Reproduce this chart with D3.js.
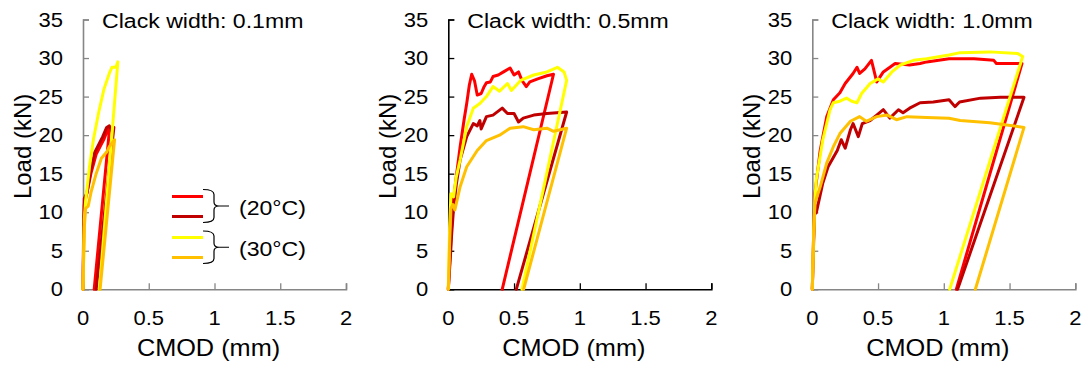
<!DOCTYPE html>
<html><head><meta charset="utf-8">
<script src="https://cdn.jsdelivr.net/npm/d3@7"></script>
<style>body{margin:0;background:#fff}svg{display:block}text{font-family:"Liberation Sans",Arial,sans-serif;fill:#000}</style>
</head><body><svg id="c" width="1086" height="365"></svg>
<script>
const panelTitles = ["Clack width: 0.1mm", "Clack width: 0.5mm", "Clack width: 1.0mm"];
const seriesNames = ["20°C-a", "20°C-b", "30°C-a", "30°C-b"];
const legendGroups = ["(20°C)", "(30°C)"];
const xTicks = [0, 0.5, 1, 1.5, 2];
const yTicks = [0, 5, 10, 15, 20, 25, 30, 35];
const xLabel = "CMOD (mm)";
const yLabel = "Load (kN)";

// [CMOD (mm), Load (kN)] – crack width 0.1 mm
const w01_a = [[0,0],[0.005,6],[0.01,11],[0.03,12.5],[0.06,15],[0.1,17.5],[0.13,18.5],[0.16,19.5],[0.19,20.8],[0.2,20.5],[0.085,0]];
const w01_b = [[0,0],[0.005,8],[0.01,11.8],[0.03,12.5],[0.06,15.5],[0.09,17.8],[0.12,18.8],[0.15,19.8],[0.18,21],[0.2,21.2],[0.22,20.5],[0.235,21],[0.1,0]];
const w01_c = [[0,0],[0.01,9],[0.02,11.5],[0.05,16],[0.08,19.5],[0.12,23],[0.16,26],[0.2,28],[0.22,28.8],[0.25,28.8],[0.265,29.5],[0.125,0]];
const w01_d = [[0,0],[0.01,8],[0.02,10.5],[0.04,10.8],[0.06,12.5],[0.1,15],[0.14,17],[0.18,17.8],[0.2,18.5],[0.24,19.4],[0.13,0]];
// crack width 0.5 mm
const w05_a = [[0,0],[0.015,5],[0.035,11],[0.06,14.5],[0.09,18.5],[0.12,22],[0.14,24.1],[0.16,26.5],[0.178,27.9],[0.2,27],[0.22,25.2],[0.25,25.4],[0.27,26.2],[0.29,26.8],[0.32,26.9],[0.34,27.6],[0.38,27.8],[0.42,28.2],[0.47,28.7],[0.5,27.8],[0.534,28.2],[0.56,27.1],[0.593,26.3],[0.62,26.9],[0.68,27.3],[0.75,27.7],[0.8,27.9],[0.41,0]];
const w05_b = [[0,0],[0.015,4],[0.025,7],[0.04,10.5],[0.06,13.5],[0.09,16.8],[0.14,19.8],[0.19,21.5],[0.22,21.2],[0.24,21.9],[0.25,20.8],[0.29,22.4],[0.34,22.6],[0.41,23.5],[0.45,22.8],[0.5,22.8],[0.534,21.7],[0.57,22.2],[0.65,22.6],[0.75,22.8],[0.9,23.0],[0.517,0]];
const w05_c = [[0,0],[0.01,8],[0.02,12.4],[0.04,12.0],[0.06,14.5],[0.09,16.8],[0.14,21.1],[0.19,23.5],[0.24,24.1],[0.29,25],[0.34,26.3],[0.39,25.7],[0.45,26.7],[0.48,25.8],[0.55,27.1],[0.65,27.8],[0.75,28.2],[0.83,28.8],[0.88,28.2],[0.9,27.1],[0.56,0]];
const w05_d = [[0,0],[0.01,6],[0.02,10.5],[0.035,11],[0.05,10.3],[0.09,13.3],[0.14,15.9],[0.22,18],[0.29,19.3],[0.39,20],[0.47,20.9],[0.57,21.1],[0.65,20.7],[0.75,20.9],[0.8,20.5],[0.9,20.9],[0.573,0]];
// crack width 1.0 mm
const w10_a = [[0,0],[0.01,7],[0.02,12.4],[0.06,18],[0.11,22.4],[0.16,24.6],[0.21,25.5],[0.25,26.7],[0.31,28],[0.34,28.8],[0.36,28],[0.4,28.6],[0.45,29.7],[0.49,26.9],[0.54,28.2],[0.63,29.3],[0.74,29.1],[0.82,29.3],[0.87,29.5],[1.04,29.9],[1.23,29.9],[1.38,29.7],[1.4,29.3],[1.595,29.3],[1.095,0]];
const w10_b = [[0,0],[0.01,6],[0.02,11],[0.03,9.9],[0.08,13.8],[0.12,15.9],[0.19,18],[0.22,19.4],[0.25,18.3],[0.29,20.7],[0.31,21.5],[0.35,19.8],[0.38,21.5],[0.44,21.9],[0.49,22.6],[0.54,23.3],[0.59,22.2],[0.655,23.3],[0.69,22.9],[0.74,23.5],[0.82,24.2],[0.92,24.3],[1.04,24.6],[1.085,23.7],[1.12,24.3],[1.28,24.8],[1.43,24.9],[1.61,24.9],[1.105,0]];
const w10_c = [[0,0],[0.01,7],[0.02,11.6],[0.03,14.2],[0.08,19.4],[0.135,23.3],[0.16,24.2],[0.21,24.4],[0.26,24.8],[0.3,24.4],[0.34,24.2],[0.375,25.4],[0.44,26.7],[0.5,27.3],[0.54,26.9],[0.605,28.2],[0.67,29.1],[0.77,29.7],[0.87,29.9],[1.04,30.4],[1.125,30.7],[1.35,30.8],[1.56,30.6],[1.6,30.2],[1.045,0]];
const w10_d = [[0,0],[0.01,7],[0.02,11.2],[0.06,13.3],[0.11,16.4],[0.16,18.5],[0.21,20.2],[0.29,21.8],[0.36,22.4],[0.41,21.8],[0.49,22.4],[0.57,22.6],[0.64,22.0],[0.72,22.4],[0.87,22.3],[1.04,22.2],[1.125,21.9],[1.35,21.6],[1.61,21.0],[1.24,0]];

const panelData = [[w01_a, w01_b, w01_c, w01_d], [w05_a, w05_b, w05_c, w05_d], [w10_a, w10_b, w10_c, w10_d]];

const colors = ["#ff0000", "#c00000", "#ffff00", "#ffc000"];
const axisColors = ["#868686", "#000000", "#868686"];
const lefts = [83, 448.3, 812.3];
const plotW = 263, plotTop = 19.5, plotBottom = 289.3;
const SX = 1.1;
const svg = d3.select("#c");

function stext(g, x, y, str, size, anchor, baseline) {
  return g.append("text").attr("transform", `translate(${x},${y}) scale(${SX},1)`)
    .attr("text-anchor", anchor || "start").attr("dominant-baseline", baseline || "alphabetic")
    .style("font-size", size + "px").text(str);
}

panelData.forEach((series, p) => {
  const x = d3.scaleLinear().domain([0, 2]).range([lefts[p], lefts[p] + plotW]);
  const y = d3.scaleLinear().domain([0, 35]).range([plotBottom, plotTop]);
  const g = svg.append("g");
  const ac = axisColors[p];

  const xa = g.append("g").attr("transform", `translate(0,${plotBottom})`)
    .call(d3.axisBottom(x).tickValues(xTicks).tickSize(-6).tickFormat(""));
  const ya = g.append("g").attr("transform", `translate(${lefts[p]},0)`)
    .call(d3.axisLeft(y).tickValues(yTicks).tickSize(-6).tickFormat(""));
  [xa, ya].forEach(a => {
    a.select(".domain").attr("stroke", ac).attr("stroke-width", 1.6);
    a.selectAll(".tick line").attr("stroke", ac).attr("stroke-width", 1.3);
  });
  xa.selectAll(".tick").filter(d => d === 0).select("line").remove();
  ya.selectAll(".tick").filter(d => d === 0).select("line").remove();

  yTicks.forEach(t => stext(g, lefts[p] - 20, y(t), String(t), 20, "end", "central"));
  xTicks.forEach(t => stext(g, x(t), plotBottom + 29, String(t), 20, "middle", "central"));

  stext(g, x(1) - 6, 348, xLabel, 23, "middle", "central");
  g.append("text").attr("transform", `translate(${lefts[p] - 52},${(plotTop + plotBottom) / 2 - 8}) rotate(-90)`)
    .attr("text-anchor", "middle").style("font-size", "24px").text(yLabel);
  stext(g, lefts[p] + 19, 28, panelTitles[p], 21, "start", "alphabetic");

  const line = d3.line().x(d => x(d[0])).y(d => y(d[1]));
  series.forEach((s, i) => {
    g.append("path").datum(s).attr("d", line).attr("fill", "none")
      .attr("stroke", colors[i]).attr("stroke-width", 3).attr("stroke-linejoin", "round")
      .attr("stroke-linecap", "round");
  });
});

const lg = svg.append("g");
const legY = [196.5, 216.5, 237.5, 257.5];
colors.forEach((c, i) => {
  lg.append("line").attr("x1", 172).attr("x2", 203).attr("y1", legY[i]).attr("y2", legY[i])
    .attr("stroke", c).attr("stroke-width", 3);
});
function brace(y0, y1) {
  const ym = (y0 + y1) / 2;
  const x0 = 203, x1 = 214, xm = 219, xt = 229;
  return `M${x0},${y0} Q${x1},${y0} ${x1},${y0 + 5} L${x1},${ym - 4} Q${x1},${ym} ${xm},${ym} L${xt},${ym} M${xm},${ym} Q${x1},${ym} ${x1},${ym + 4} L${x1},${y1 - 5} Q${x1},${y1} ${x0},${y1}`;
}
[[189.5, 222.5], [231, 263.5]].forEach((b, i) => {
  lg.append("path").attr("d", brace(b[0], b[1])).attr("fill", "none").attr("stroke", "#000").attr("stroke-width", 1.2);
  stext(lg, 239, (b[0] + b[1]) / 2 + 2, legendGroups[i], 21, "start", "central");
});
</script></body></html>
